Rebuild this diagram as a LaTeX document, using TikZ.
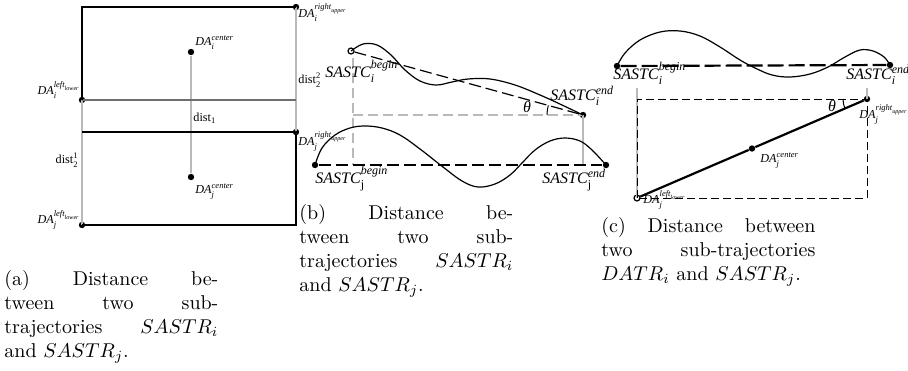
\documentclass[tikz,border=0pt]{standalone}
\usepackage{fontspec}
\usepackage{amsmath}
\newfontfamily\lab{Liberation Serif}
\usetikzlibrary{calc}
\newcommand{\ti}[1]{\text{\lab\itshape #1}}
\newcommand{\tr}[1]{\text{\lab #1}}
\newcommand{\jl}[1]{\makebox[107pt][s]{#1}}
\definecolor{lgray}{RGB}{185,185,185}
\definecolor{mgray}{RGB}{110,110,110}
\begin{document}
\begin{tikzpicture}[x=0.5pt,y=-0.5pt,
  dot/.style={circle,fill=black,inner sep=0pt,minimum size=3.2pt},
  odot/.style={circle,draw=black,fill=white,line width=0.6pt,inner sep=0pt,minimum size=3pt},
  lbl/.style={inner sep=0pt,font=\fontsize{6.1}{7}\selectfont},
  slbl/.style={inner sep=0pt,font=\fontsize{8}{9}\selectfont},
  capt/.style={inner sep=0pt,align=left,anchor=north west,font=\fontsize{10}{12}\selectfont},
  blk/.style={line width=0.55pt},
  gln/.style={line width=0.6pt,draw=lgray},
  gdash/.style={line width=1pt,draw=lgray,dash pattern=on 5pt off 2.5pt},
  bdash/.style={line width=0.6pt,dash pattern=on 6pt off 2.5pt},
  tdash/.style={line width=1.1pt,dash pattern=on 8pt off 2.5pt},
  rdash/.style={line width=0.5pt,dash pattern=on 4pt off 2pt},
  traj/.style={line width=0.6pt}
]
\useasboundingbox (0,0) rectangle (908,370);

% ---------- panel (a) ----------
\node[dot] (iru) at (296,7) {};
\node[dot] (ill) at (82,100) {};
\node[dot] (jru) at (296,132) {};
\node[dot] (jll) at (82,225) {};
\node[dot] (ic) at (191,52) {};
\node[dot] (jc) at (191,177) {};
\coordinate (itl) at (82,7);
\coordinate (ibr) at (296,100);
\coordinate (jtl) at (82,132);
\coordinate (jbr) at (296,225);

\draw[gln] (iru.center) -- (jru.center);
\draw[gln] (ill.center) -- (jll.center);
\draw[gln] (ic) -- (jc);
\draw[blk,draw=mgray] (ill.center) -- (ibr);
\draw[blk] (ill.center) -- (itl) -- (iru.center);
\draw[blk] (jtl) -- (jru.center) -- (jbr) -- (jll.center);

\node[lbl,anchor=north west] (liru) at (298,3) {$\ti{DA}_{\ti{i}}^{\ti{right}_{\ti{upper}}}$};
\node[lbl,anchor=south east] (lill) at (81,99) {$\ti{DA}_{\ti{i}}^{\ti{left}_{\ti{lower}}}$};
\node[lbl,anchor=north west] (ljru) at (298,131) {$\ti{DA}_{\ti{j}}^{\ti{right}_{\ti{upper}}}$};
\node[lbl,anchor=south east] (ljll) at (81,230) {$\ti{DA}_{\ti{j}}^{\ti{left}_{\ti{lower}}}$};
\node[lbl,anchor=south west] (lic) at (195,50) {$\ti{DA}_{\ti{i}}^{\ti{center}}$};
\node[lbl,anchor=north west] (ljc) at (195,183) {$\ti{DA}_{\ti{j}}^{\ti{center}}$};
\node[lbl,anchor=west] (d1) at (193,118) {$\tr{dist}_{\tr{1}}$};
\node[lbl,anchor=east] (d21) at (79,160) {$\tr{dist}_{\tr{2}}^{\tr{1}}$};
\node[lbl,anchor=west] (d22) at (298,80) {$\tr{dist}_{\tr{2}}^{\tr{2}}$};

\node[capt] (capa) at (4,270) {\jl{(a) Distance be-}\\\jl{tween two sub-}\\\jl{trajectories $SASTR_i$}\\and $SASTR_j$.};

% ---------- panel (b) ----------
\coordinate (gb1) at (353,58);
\coordinate (gb3) at (353,115);
\coordinate (gb2) at (353,165);
\coordinate (gb4) at (583,165);
\node[odot] (p1) at (351,51) {};
\node[dot] (p2) at (583,115) {};
\node[dot] (q1) at (315,165) {};
\node[dot] (q2) at (606,165) {};

\draw[gdash] (gb1) -- (gb2);
\draw[gdash] (gb3) -- (p2.center);
\draw[gln,line width=1pt] (p2.center) -- (gb4);

\draw[bdash] (p1) -- (p2);
\draw[bdash] (q1) -- (q2);
\draw[traj] plot[smooth,tension=0.6] coordinates {(p1.center) (363,44) (377,45) (391,55) (405,70) (420,81) (436,85) (452,82) (468,79) (490,79) (515,85) (540,95) (562,105) (p2.center)};
\draw[traj] plot[smooth,tension=0.6] coordinates {(q1.center) (322,148) (335,135) (350,128) (365,126) (382,128) (400,135) (420,149) (443,167) (462,181) (478,187) (495,184) (510,175) (522,163) (535,150) (550,141) (565,138) (580,141) (592,150) (q2.center)};
\draw[line width=0.5pt] ($(p2.center)+(180:18pt)$) arc[start angle=180,end angle=164.6,radius=18pt];
\node[slbl,anchor=center] (thb) at (527,107) {\lab\itshape θ};

\node[slbl,anchor=base west] (lp1) at (325,77) {$\ti{SASTC}_{\ti{i}}^{\ti{begin}}$};
\node[slbl,anchor=base west] (lp2) at (550,100) {$\ti{SASTC}_{\ti{i}}^{\ti{end}}$};
\node[slbl,anchor=base west] (lq1) at (315,183) {$\ti{SASTC}_{\tr{j}}^{\ti{begin}}$};
\node[slbl,anchor=base west] (lq2) at (542,183) {$\ti{SASTC}_{\tr{j}}^{\ti{end}}$};

\node[capt] (capb) at (299,204) {\jl{(b) Distance be-}\\\jl{tween two sub-}\\\jl{trajectories $SASTR_i$}\\and $SASTR_j$.};

% ---------- panel (c) ----------
\node[dot] (r1) at (617,66) {};
\node[dot] (r2) at (890,65) {};
\node[odot] (s1) at (637,198) {};
\node[dot] (s2) at (867,99) {};
\node[dot] (sc) at (752,148.5) {};
\coordinate (gc1) at (637,88);
\coordinate (gc2) at (867,88);

\draw[gln] (gc1) -- (s1.center);
\draw[gln] (gc2) -- (s2.center);
\draw[rdash] (s1.center) rectangle (s2.center);
\draw[tdash] (r1) -- (r2);
\draw[traj] plot[smooth,tension=0.6] coordinates {(r1.center) (625,53) (640,40) (660,32) (680,31) (700,36) (720,47) (740,60) (755,68) (772,75) (790,77) (810,74) (828,67) (845,57) (860,50) (873,51) (884,57) (r2.center)};
\draw[line width=1.1pt] (s1) -- (sc) -- (s2);
\draw[line width=0.5pt] ($(s2.center)+(180:12pt)$) arc[start angle=180,end angle=203.3,radius=12pt];
\node[slbl,anchor=center] (thc) at (832,106) {\lab\itshape θ};

\node[slbl,anchor=base west] (lr1) at (613,79) {$\ti{SASTC}_{\ti{i}}^{\ti{begin}}$};
\node[slbl,anchor=base west] (lr2) at (846,79) {$\ti{SASTC}_{\ti{i}}^{\ti{end}}$};
\node[lbl,anchor=north west] (ls2) at (859,104) {$\ti{DA}_{\ti{j}}^{\ti{right}_{\ti{upper}}}$};
\node[lbl,anchor=north west] (lsc) at (760,152) {$\ti{DA}_{\ti{j}}^{\ti{center}}$};
\node[lbl,anchor=west] (ls1) at (643,200) {$\ti{DA}_{\ti{j}}^{\ti{left}_{\ti{lower}}}$};

\node[capt] (capc) at (601,217) {\jl{(c) Distance between}\\\jl{two sub-trajectories}\\$DATR_i$ and $SASTR_j$.};
\end{tikzpicture}
\end{document}
